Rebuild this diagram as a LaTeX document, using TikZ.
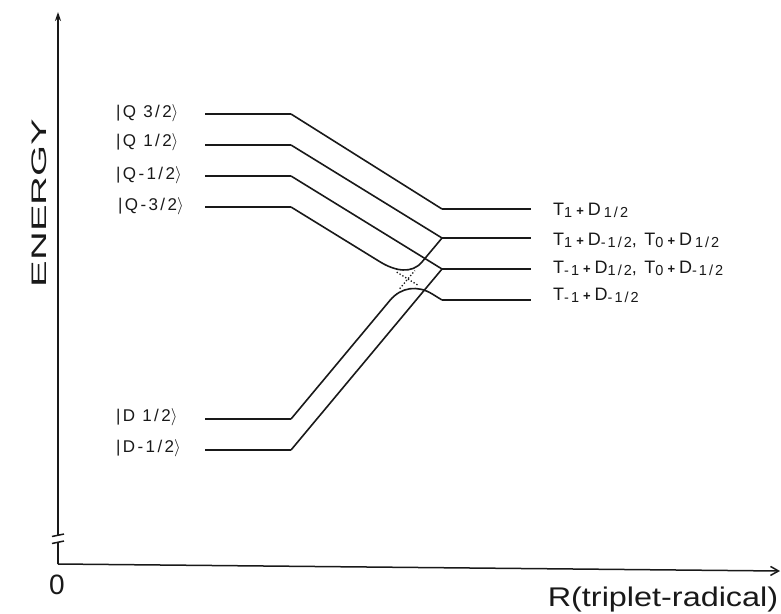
\documentclass[tikz,border=0pt]{standalone}
\usepackage{fontspec}
\setmainfont{Liberation Sans}
\newfontfamily\labfont[LetterSpace=14]{Liberation Sans}
\usetikzlibrary{arrows.meta,calc}
\newcommand\sbt[1]{\raisebox{-2.5pt}{\fontsize{14.5}{15}\selectfont #1}}
\newcommand\pls{\hspace{4pt}{\fontsize{13}{13}\selectfont\bfseries +}\hspace{4pt}}
\newcommand\myket[1]{|#1$\rangle$}
\begin{document}
\begin{tikzpicture}[x=1pt,y=-1pt,
  lvl/.style={line width=2pt, draw=black!90},
  conn/.style={line width=1.6pt, draw=black!90},
  diab/.style={dotted, line width=1.3pt, draw=black!90},
  axis/.style={line width=1.5pt, draw=black!90},
  lbl/.style={font={\labfont\fontsize{17}{18}\selectfont}, anchor=base west, inner sep=0pt, text=black!90},
  rlbl/.style={font={\labfont\fontsize{18}{19}\selectfont}, anchor=base west, inner sep=0pt, text=black!90}]
\useasboundingbox (0,0) rectangle (781,613);
\fill[white] (0,0) rectangle (781,613);
% axes
\coordinate (O) at (58,564);
\coordinate (Ytop) at (58,12);
\coordinate (brkA) at (58,535);
\coordinate (brkB) at (58,542);
\coordinate (Xend) at (780,571);
\draw[axis,-{Stealth[length=9pt,width=6pt]}] (brkA) -- (Ytop);
\draw[axis] (O) -- (brkB);
\draw[axis,-{Straight Barb[length=8pt,width=9pt]}] (O) -- (Xend);
\draw[axis] (52,536.5) -- (64,534);
\draw[axis] (52,543.5) -- (64,541);
\node[font=\fontsize{28}{30}\selectfont, text=black!90] (zero) at (57,585) {0};
\node[font=\fontsize{27}{30}\selectfont, text=black!90, anchor=base] (xlab) at (663,606) {\scalebox{1.2}[1]{R(triplet-radical)}};
\node[font=\fontsize{21}{24}\selectfont, text=black!90, rotate=90] (ylab) at (39,203) {\scalebox{1.9}[1]{ENERGY}};
% left levels
\foreach \n/\y in {Qa/114,Qb/145,Qc/176,Qd/207,Da/419,Db/450}{
  \coordinate (\n1) at (205,\y);
  \coordinate (\n2) at (291,\y);
  \draw[lvl] (\n1) -- (\n2);
}
% right levels
\foreach \n/\y in {La/209,Lb/238,Lc/269,Ld/300}{
  \coordinate (\n1) at (442,\y);
  \coordinate (\n2) at (531,\y);
  \draw[lvl] (\n1) -- (\n2);
}
% labels
\node[lbl] (tQa) at (116,117) {\myket{Q 3/2}};
\node[lbl] (tQb) at (116,146) {\myket{Q 1/2}};
\node[lbl] (tQc) at (116,179) {\myket{Q-1/2}};
\node[lbl] (tQd) at (118,210) {\myket{Q-3/2}};
\node[lbl] (tDa) at (116,421) {\myket{D 1/2}};
\node[lbl] (tDb) at (116,452) {\myket{D-1/2}};
\node[rlbl] (tLa) at (553,215) {T\sbt{1}\pls D\,\sbt{1/2}};
\node[rlbl] (tLb) at (553,245) {T\sbt{1}\pls D\sbt{-1/2}, T\sbt{0}\pls D\,\sbt{1/2}};
\node[rlbl] (tLc) at (553,273) {T\sbt{-1}\pls D\sbt{1/2}, T\sbt{0}\pls D\sbt{-1/2}};
\node[rlbl] (tLd) at (553,300) {T\sbt{-1}\pls D\sbt{-1/2}};
% straight connectors
\draw[conn] (Qa2) -- (La1);
\draw[conn] (Qb2) -- (Lb1);
\draw[conn] (Qc2) -- (Lc1);
\draw[conn] (Db2) -- (Lc1);
% avoided crossing Q-3/2 / D1/2
\coordinate (ua) at ($(Qd2)!0.589!(Ld1)$);
\coordinate (uc1) at ($(Qd2)!0.69!(Ld1)$);
\coordinate (uc2) at ($(Da2)!0.80!(Lb1)$);
\coordinate (ub) at ($(Da2)!0.868!(Lb1)$);
\draw[conn] (Qd2) -- (ua) .. controls (uc1) and (uc2) .. (ub) -- (Lb1);
\coordinate (la) at ($(Da2)!0.656!(Lb1)$);
\coordinate (lc1) at ($(Da2)!0.73!(Lb1)$);
\coordinate (lc2) at ($(Qd2)!0.84!(Ld1)$);
\coordinate (lb) at ($(Qd2)!0.934!(Ld1)$);
\draw[conn] (Da2) -- (la) .. controls (lc1) and (lc2) .. (lb) -- (Ld1);
\draw[diab] ($(Qd2)!0.70!(Ld1)$) -- ($(Qd2)!0.84!(Ld1)$);
\draw[diab] ($(Da2)!0.72!(Lb1)$) -- ($(Da2)!0.82!(Lb1)$);
\end{tikzpicture}
\end{document}
